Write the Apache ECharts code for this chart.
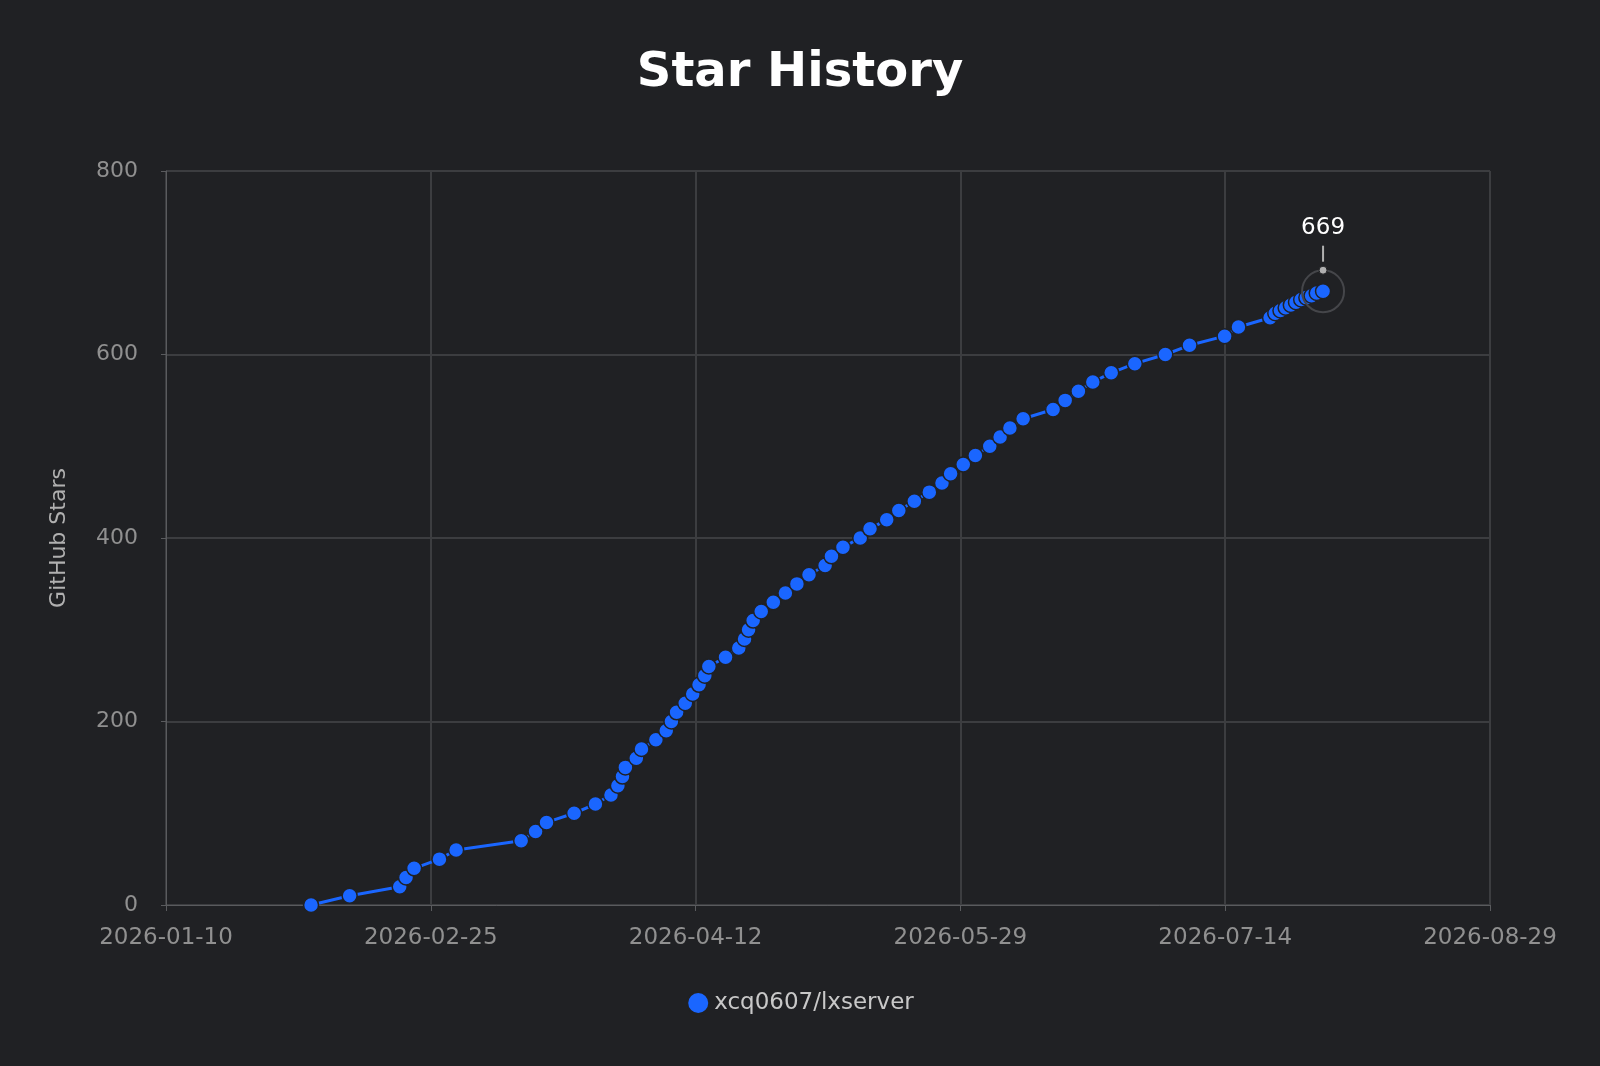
<!DOCTYPE html>
<html>
<head>
<meta charset="utf-8">
<script src="https://cdn.jsdelivr.net/npm/echarts@6/dist/echarts.min.js"></script>
<style>html,body{margin:0;background:#202124}#chart{width:1600px;height:1066px}</style>
</head>
<body>
<div id="chart"></div>
<script>
// days since 2026-01-10
const days = [25.2, 31.9, 40.6, 41.7, 43.1, 47.5, 50.4, 61.7, 64.2, 66.1, 70.9, 74.6, 77.3, 78.5, 79.3, 79.8,
  81.7, 82.6, 85.1, 86.9, 87.8, 88.7, 90.2, 91.5, 92.6, 93.6, 94.3, 97.2, 99.5, 100.5, 101.2, 102, 103.4,
  105.5, 107.6, 109.6, 111.7, 114.5, 115.6, 117.6, 120.6, 122.3, 125.2, 127.3, 130, 132.6, 134.8, 136.3,
  138.5, 140.6, 143.1, 144.9, 146.6, 148.9, 154.1, 156.2, 158.5, 161, 164.2, 168.3, 173.6, 177.8, 183.9,
  186.3, 191.8, 192.7, 193.6, 194.5, 195.4, 196.3, 197.2, 198.1, 199, 199.9, 201];
const stars = [0, 10, 20, 30, 40, 50, 60, 70, 80, 90, 100, 110, 120, 130, 140, 150,
  160, 170, 180, 190, 200, 210, 220, 230, 240, 250, 260, 270, 280, 290, 300, 310, 320,
  330, 340, 350, 360, 370, 380, 390, 400, 410, 420, 430, 440, 450, 460, 470,
  480, 490, 500, 510, 520, 530, 540, 550, 560, 570, 580, 590, 600, 610, 620,
  630, 640, 645, 648, 651, 654, 657, 660, 662, 664, 667, 669];
const tickLabels = ['2026-01-10', '2026-02-25', '2026-04-12', '2026-05-29', '2026-07-14', '2026-08-29'];

const font = 'DejaVu Sans';
const chart = echarts.init(document.getElementById('chart'));
const last = [days[days.length - 1], stars[stars.length - 1]];
chart.setOption({
  backgroundColor: '#202124',
  title: {
    text: 'Star History', left: 'center', top: 45,
    textStyle: { color: '#ffffff', fontSize: 48, fontWeight: 'bold', fontFamily: font }
  },
  legend: {
    bottom: 46, left: 'center', icon: 'circle', itemWidth: 22, itemHeight: 22,
    textStyle: { color: '#c8c8c8', fontSize: 23, fontFamily: font }
  },
  grid: { left: 166, right: 110, top: 171, bottom: 161 },
  xAxis: {
    type: 'value', min: 0, max: 230, interval: 46,
    axisLine: { lineStyle: { color: '#5a5b5e' } },
    axisTick: { show: true, length: 6, lineStyle: { color: '#5a5b5e' } },
    splitLine: { show: true, lineStyle: { color: '#3c3d40', width: 2 } },
    axisLabel: {
      color: '#909090', fontSize: 23, fontFamily: font, margin: 22,
      formatter: v => tickLabels[Math.round(v / 46)]
    }
  },
  yAxis: {
    type: 'value', min: 0, max: 800, interval: 200,
    name: 'GitHub Stars', nameLocation: 'middle', nameGap: 96,
    nameTextStyle: { color: '#b0b0b0', fontSize: 22, fontFamily: font },
    axisLine: { show: true, lineStyle: { color: '#5a5b5e' } },
    splitLine: { lineStyle: { color: '#3c3d40', width: 2 } },
    axisLabel: { color: '#909090', fontSize: 22, fontFamily: font, margin: 28 }
  },
  series: [{
    name: 'xcq0607/lxserver', type: 'line',
    data: days.map((d, i) => [d, stars[i]]),
    symbol: 'circle', symbolSize: 15, showAllSymbol: true,
    lineStyle: { color: '#1a66ff', width: 3 },
    itemStyle: { color: '#1a66ff', borderColor: '#202124', borderWidth: 1.5 },
    markPoint: {
      silent: true,
      data: [
        { coord: last, symbol: 'circle', symbolSize: 42,
          itemStyle: { color: 'rgba(0,0,0,0)', borderColor: '#45464a', borderWidth: 2 }, label: { show: false } },
        { coord: last, symbol: 'circle', symbolSize: 8, symbolOffset: [0, -21],
          itemStyle: { color: '#b0b0b0', borderColor: '#202124', borderWidth: 1 },
          label: { show: true, position: 'top', distance: 4, formatter: '{v|669}\n{l|}',
            rich: { v: { color: '#ffffff', fontSize: 23, fontFamily: font, align: 'center', padding: [0, 0, 6, 0] },
                    l: { width: 2, height: 16, backgroundColor: '#b0b0b0', align: 'center' } } } }
      ]
    }
  }]
});
</script>
</body>
</html>
